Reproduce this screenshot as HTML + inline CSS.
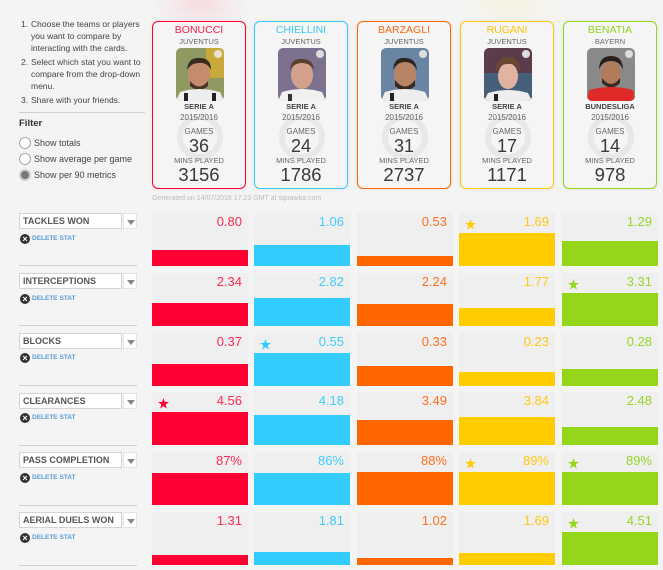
<!DOCTYPE html>
<html><head><meta charset="utf-8">
<style>
*{margin:0;padding:0;box-sizing:border-box}
html,body{width:663px;height:570px;overflow:hidden;background:#f4f4f4;font-family:"Liberation Sans",Arial,sans-serif}
.a{position:absolute}
.t{position:absolute;white-space:nowrap}
.card{position:absolute;top:21px;width:94px;height:168px;border:1px solid;border-radius:6px;background:#f5f5f5;box-shadow:0 0 4px rgba(0,0,0,0.08)}
.card .c{position:absolute;left:0;width:100%;text-align:center;white-space:nowrap}
.nm{font-size:10.5px;height:14px;line-height:14px;top:1px}
.tm{font-size:7.5px;color:#666;height:12px;line-height:12px;top:14px}
.lg{font-size:7.5px;color:#444;font-weight:bold;height:12px;line-height:12px;top:79px}
.ss{font-size:8px;color:#666;height:12px;line-height:12px;top:90px}
.gl{font-size:8px;color:#666;height:12px;line-height:12px;top:104px}
.gn{font-size:18px;color:#3a3a3a;height:20px;line-height:20px;top:114px}
.ml{font-size:7.5px;color:#666;height:12px;line-height:12px;top:133px}
.mn{font-size:18.5px;color:#3a3a3a;height:20px;line-height:20px;top:143px}
.ph{position:absolute;left:23px;top:26px;width:48px;height:53px;border-radius:5px;overflow:hidden}
.ring{position:absolute;left:24px;top:92px;width:46px;height:46px;border-radius:50%;border:6px solid #e8e8e8}
.cell{position:absolute;width:96px;height:53px;background:#efefef}
.val{position:absolute;right:6px;top:2px;font-size:13px;line-height:14px}
.bar{position:absolute;left:0;bottom:0;width:100%}
.star{position:absolute;left:6px;top:6px;width:11px;height:11px}
.dd{position:absolute;left:19px;width:103px;height:16px;background:#fff;border:1px solid #d4d4d4;font-size:9px;font-weight:bold;color:#555;line-height:14px;padding-left:3px;white-space:nowrap}
.ar{position:absolute;left:123px;width:14px;height:16px;background:#fff;border:1px solid #e4e4e4}
.ar:after{content:"";position:absolute;left:3px;top:6px;border-left:4px solid transparent;border-right:4px solid transparent;border-top:5px solid #888}
.del{position:absolute;left:19px;height:12px;font-size:6.5px;font-weight:bold;color:#5b9bd5;line-height:12px;padding-left:13px;white-space:nowrap}
.del:before{content:"×";position:absolute;left:1px;top:1px;width:10px;height:10px;border-radius:50%;background:#333;color:#fff;font-size:9px;line-height:10px;text-align:center}
.sep{position:absolute;left:19px;width:118px;height:1px;background:#cfcfcf}
.lt{position:absolute;font-size:8.5px;color:#444;white-space:nowrap;line-height:12px;height:12px}
.rad{position:absolute;left:19px;width:12px;height:12px;border-radius:50%;border:1px solid #aaa;background:#fff}
</style></head><body>

<div class="a" style="left:150px;top:-20px;width:100px;height:50px;border-radius:50%;background:radial-gradient(ellipse at center,rgba(255,150,170,0.25),rgba(255,150,170,0) 70%)"></div>
<div class="a" style="left:460px;top:-20px;width:100px;height:50px;border-radius:50%;background:radial-gradient(ellipse at center,rgba(255,235,160,0.25),rgba(255,235,160,0) 70%)"></div>

<div class="lt" style="left:21px;top:18px">1.</div>
<div class="lt" style="left:31px;top:18px">Choose the teams or players</div>
<div class="lt" style="left:31px;top:30px">you want to compare by</div>
<div class="lt" style="left:31px;top:42px">interacting with the cards.</div>
<div class="lt" style="left:21px;top:56px">2.</div>
<div class="lt" style="left:31px;top:56px">Select which stat you want to</div>
<div class="lt" style="left:31px;top:68px">compare from the drop-down</div>
<div class="lt" style="left:31px;top:80px">menu.</div>
<div class="lt" style="left:21px;top:94px">3.</div>
<div class="lt" style="left:31px;top:94px">Share with your friends.</div>
<div class="a" style="left:19px;top:112px;width:126px;height:1px;background:#cfcfcf"></div>
<div class="lt" style="left:19px;top:118px;font-size:9.5px;color:#333;font-weight:bold">Filter</div>
<div class="rad" style="top:137px"></div>
<div class="lt" style="left:34px;top:137px;font-size:9px">Show totals</div>
<div class="rad" style="top:153px"></div>
<div class="lt" style="left:34px;top:153px;font-size:9px">Show average per game</div>
<div class="rad" style="top:169px;background:#777;border:2px solid #ccc"></div>
<div class="lt" style="left:34px;top:169px;font-size:9px">Show per 90 metrics</div>

<div class="card" style="left:152px;border-color:#ff0033">
 <div class="ring"></div>
 <div class="c nm" style="color:#ff1a47">BONUCCI</div>
 <div class="c tm">JUVENTUS</div>
 <div class="ph"><svg width="48" height="53"><rect width="48" height="53" fill="#8f9a62"/><rect x="30" width="18" height="30" fill="#c9a83c"/><ellipse cx="23" cy="27" rx="11" ry="14" fill="#c48c6c"/><path d="M11 22 Q12 9 24 10 Q35 10 35 22 Q31 14 23 15 Q15 15 11 22Z" fill="#3a2a1e"/><path d="M14 33 Q23 44 32 33 L32 38 Q23 46 14 38Z" fill="#4a3526"/><path d="M0 53 L4 44 Q23 38 44 44 L48 53Z" fill="#eee"/><rect x="8" y="45" width="4" height="8" fill="#222"/><rect x="36" y="45" width="4" height="8" fill="#222"/><circle cx="42" cy="6" r="4" fill="#e8e4d0"/></svg></div>
 <div class="c lg">SERIE A</div>
 <div class="c ss">2015/2016</div>
 <div class="c gl">GAMES</div>
 <div class="c gn">36</div>
 <div class="c ml">MINS PLAYED</div>
 <div class="c mn">3156</div>
</div>
<div class="card" style="left:254px;border-color:#33ccff">
 <div class="ring"></div>
 <div class="c nm" style="color:#3cc8f5">CHIELLINI</div>
 <div class="c tm">JUVENTUS</div>
 <div class="ph"><svg width="48" height="53"><rect width="48" height="53" fill="#7c7290"/><ellipse cx="24" cy="27" rx="11" ry="14" fill="#d4a28c"/><path d="M12 22 Q13 10 24 11 Q35 11 36 22 Q32 15 24 15 Q16 15 12 22Z" fill="#5a4030"/><path d="M0 53 L4 44 Q24 38 44 44 L48 53Z" fill="#f0f0f0"/><rect x="10" y="46" width="4" height="7" fill="#333"/><circle cx="42" cy="6" r="4" fill="#ddd"/></svg></div>
 <div class="c lg">SERIE A</div>
 <div class="c ss">2015/2016</div>
 <div class="c gl">GAMES</div>
 <div class="c gn">24</div>
 <div class="c ml">MINS PLAYED</div>
 <div class="c mn">1786</div>
</div>
<div class="card" style="left:357px;border-color:#ff6600">
 <div class="ring"></div>
 <div class="c nm" style="color:#ff6a10">BARZAGLI</div>
 <div class="c tm">JUVENTUS</div>
 <div class="ph"><svg width="48" height="53"><rect width="48" height="53" fill="#6a84a4"/><ellipse cx="24" cy="27" rx="11" ry="14" fill="#b88466"/><path d="M12 22 Q13 9 24 10 Q35 10 36 22 Q32 14 24 14 Q16 14 12 22Z" fill="#2e241c"/><path d="M14 32 Q24 45 34 32 L34 38 Q24 47 14 38Z" fill="#3a2a20"/><path d="M0 53 L4 44 Q24 38 44 44 L48 53Z" fill="#eee"/><rect x="9" y="45" width="4" height="8" fill="#222"/><circle cx="42" cy="6" r="4" fill="#ddd"/></svg></div>
 <div class="c lg">SERIE A</div>
 <div class="c ss">2015/2016</div>
 <div class="c gl">GAMES</div>
 <div class="c gn">31</div>
 <div class="c ml">MINS PLAYED</div>
 <div class="c mn">2737</div>
</div>
<div class="card" style="left:460px;border-color:#ffcc00">
 <div class="ring"></div>
 <div class="c nm" style="color:#ffc400">RUGANI</div>
 <div class="c tm">JUVENTUS</div>
 <div class="ph"><svg width="48" height="53"><rect width="48" height="53" fill="#5a3c4c"/><rect x="0" y="25" width="48" height="28" fill="#46607c"/><ellipse cx="24" cy="28" rx="10" ry="13" fill="#e2b4a0"/><path d="M12 24 Q11 9 24 9 Q37 9 36 24 Q33 15 24 16 Q15 16 12 24Z" fill="#6a4830"/><path d="M0 53 L4 45 Q24 39 44 45 L48 53Z" fill="#eee"/><rect x="10" y="46" width="4" height="7" fill="#222"/><circle cx="42" cy="6" r="4" fill="#ddd"/></svg></div>
 <div class="c lg">SERIE A</div>
 <div class="c ss">2015/2016</div>
 <div class="c gl">GAMES</div>
 <div class="c gn">17</div>
 <div class="c ml">MINS PLAYED</div>
 <div class="c mn">1171</div>
</div>
<div class="card" style="left:563px;border-color:#94d61a">
 <div class="ring"></div>
 <div class="c nm" style="color:#94d61a">BENATIA</div>
 <div class="c tm">BAYERN</div>
 <div class="ph"><svg width="48" height="53"><rect width="48" height="53" fill="#8a8a8a"/><ellipse cx="24" cy="26" rx="10" ry="13" fill="#b27c5c"/><path d="M12 22 Q12 8 24 8 Q36 8 36 22 Q33 13 24 13 Q15 13 12 22Z" fill="#2a1e18"/><path d="M15 30 Q24 42 33 30 L33 35 Q24 44 15 35Z" fill="#3a2a20"/><path d="M0 53 L2 42 Q24 36 46 42 L48 53Z" fill="#e02a2a"/><circle cx="42" cy="6" r="4" fill="#ddd"/></svg></div>
 <div class="c lg">BUNDESLIGA</div>
 <div class="c ss">2015/2016</div>
 <div class="c gl">GAMES</div>
 <div class="c gn">14</div>
 <div class="c ml">MINS PLAYED</div>
 <div class="c mn">978</div>
</div>

<div class="t" style="left:152px;top:194px;font-size:7px;color:#bbb;line-height:10px">Generated on 14/07/2016 17:23 GMT at squawka.com</div>

<div class="dd" style="top:213px">TACKLES WON</div><div class="ar" style="top:213px"></div>
<div class="del" style="top:233px">DELETE STAT</div><div class="sep" style="top:265px"></div>

<div class="dd" style="top:273px">INTERCEPTIONS</div><div class="ar" style="top:273px"></div>
<div class="del" style="top:293px">DELETE STAT</div><div class="sep" style="top:325px"></div>

<div class="dd" style="top:333px">BLOCKS</div><div class="ar" style="top:333px"></div>
<div class="del" style="top:352px">DELETE STAT</div><div class="sep" style="top:385px"></div>

<div class="dd" style="top:393px">CLEARANCES</div><div class="ar" style="top:393px"></div>
<div class="del" style="top:412px">DELETE STAT</div><div class="sep" style="top:445px"></div>

<div class="dd" style="top:452px">PASS COMPLETION</div><div class="ar" style="top:452px"></div>
<div class="del" style="top:472px">DELETE STAT</div><div class="sep" style="top:505px"></div>

<div class="dd" style="top:512px">AERIAL DUELS WON</div><div class="ar" style="top:512px"></div>
<div class="del" style="top:532px">DELETE STAT</div><div class="sep" style="top:565px"></div>

<svg width="0" height="0" style="position:absolute"><defs><polygon id="st" points="5.5,0 6.8,3.9 11,4 7.6,6.5 8.9,10.6 5.5,8.1 2.1,10.6 3.4,6.5 0,4 4.2,3.9"/></defs></svg>

<div class="cell" style="left:152px;top:213px"><div class="val" style="color:#ff2a52">0.80</div><div class="bar" style="height:16px;background:#ff0033"></div></div>
<div class="cell" style="left:254px;top:213px"><div class="val" style="color:#40cdfb">1.06</div><div class="bar" style="height:21px;background:#33ccff"></div></div>
<div class="cell" style="left:357px;top:213px"><div class="val" style="color:#ff7020">0.53</div><div class="bar" style="height:10px;background:#ff6600"></div></div>
<div class="cell" style="left:459px;top:213px"><svg class="star"><use href="#st" fill="#ffcc00"/></svg><div class="val" style="color:#ffc812">1.69</div><div class="bar" style="height:33px;background:#ffcc00"></div></div>
<div class="cell" style="left:562px;top:213px"><div class="val" style="color:#96d626">1.29</div><div class="bar" style="height:25px;background:#94d61a"></div></div>

<div class="cell" style="left:152px;top:273px"><div class="val" style="color:#ff2a52">2.34</div><div class="bar" style="height:23px;background:#ff0033"></div></div>
<div class="cell" style="left:254px;top:273px"><div class="val" style="color:#40cdfb">2.82</div><div class="bar" style="height:28px;background:#33ccff"></div></div>
<div class="cell" style="left:357px;top:273px"><div class="val" style="color:#ff7020">2.24</div><div class="bar" style="height:22px;background:#ff6600"></div></div>
<div class="cell" style="left:459px;top:273px"><div class="val" style="color:#ffc812">1.77</div><div class="bar" style="height:18px;background:#ffcc00"></div></div>
<div class="cell" style="left:562px;top:273px"><svg class="star"><use href="#st" fill="#94d61a"/></svg><div class="val" style="color:#96d626">3.31</div><div class="bar" style="height:33px;background:#94d61a"></div></div>

<div class="cell" style="left:152px;top:333px"><div class="val" style="color:#ff2a52">0.37</div><div class="bar" style="height:22px;background:#ff0033"></div></div>
<div class="cell" style="left:254px;top:333px"><svg class="star"><use href="#st" fill="#33ccff"/></svg><div class="val" style="color:#40cdfb">0.55</div><div class="bar" style="height:33px;background:#33ccff"></div></div>
<div class="cell" style="left:357px;top:333px"><div class="val" style="color:#ff7020">0.33</div><div class="bar" style="height:20px;background:#ff6600"></div></div>
<div class="cell" style="left:459px;top:333px"><div class="val" style="color:#ffc812">0.23</div><div class="bar" style="height:14px;background:#ffcc00"></div></div>
<div class="cell" style="left:562px;top:333px"><div class="val" style="color:#96d626">0.28</div><div class="bar" style="height:17px;background:#94d61a"></div></div>

<div class="cell" style="left:152px;top:392px"><svg class="star"><use href="#st" fill="#ff0033"/></svg><div class="val" style="color:#ff2a52">4.56</div><div class="bar" style="height:33px;background:#ff0033"></div></div>
<div class="cell" style="left:254px;top:392px"><div class="val" style="color:#40cdfb">4.18</div><div class="bar" style="height:30px;background:#33ccff"></div></div>
<div class="cell" style="left:357px;top:392px"><div class="val" style="color:#ff7020">3.49</div><div class="bar" style="height:25px;background:#ff6600"></div></div>
<div class="cell" style="left:459px;top:392px"><div class="val" style="color:#ffc812">3.84</div><div class="bar" style="height:28px;background:#ffcc00"></div></div>
<div class="cell" style="left:562px;top:392px"><div class="val" style="color:#96d626">2.48</div><div class="bar" style="height:18px;background:#94d61a"></div></div>

<div class="cell" style="left:152px;top:452px"><div class="val" style="color:#ff2a52">87%</div><div class="bar" style="height:32px;background:#ff0033"></div></div>
<div class="cell" style="left:254px;top:452px"><div class="val" style="color:#40cdfb">86%</div><div class="bar" style="height:32px;background:#33ccff"></div></div>
<div class="cell" style="left:357px;top:452px"><div class="val" style="color:#ff7020">88%</div><div class="bar" style="height:33px;background:#ff6600"></div></div>
<div class="cell" style="left:459px;top:452px"><svg class="star"><use href="#st" fill="#ffcc00"/></svg><div class="val" style="color:#ffc812">89%</div><div class="bar" style="height:33px;background:#ffcc00"></div></div>
<div class="cell" style="left:562px;top:452px"><svg class="star"><use href="#st" fill="#94d61a"/></svg><div class="val" style="color:#96d626">89%</div><div class="bar" style="height:33px;background:#94d61a"></div></div>

<div class="cell" style="left:152px;top:512px"><div class="val" style="color:#ff2a52">1.31</div><div class="bar" style="height:10px;background:#ff0033"></div></div>
<div class="cell" style="left:254px;top:512px"><div class="val" style="color:#40cdfb">1.81</div><div class="bar" style="height:13px;background:#33ccff"></div></div>
<div class="cell" style="left:357px;top:512px"><div class="val" style="color:#ff7020">1.02</div><div class="bar" style="height:7px;background:#ff6600"></div></div>
<div class="cell" style="left:459px;top:512px"><div class="val" style="color:#ffc812">1.69</div><div class="bar" style="height:12px;background:#ffcc00"></div></div>
<div class="cell" style="left:562px;top:512px"><svg class="star"><use href="#st" fill="#94d61a"/></svg><div class="val" style="color:#96d626">4.51</div><div class="bar" style="height:33px;background:#94d61a"></div></div>

</body></html>
